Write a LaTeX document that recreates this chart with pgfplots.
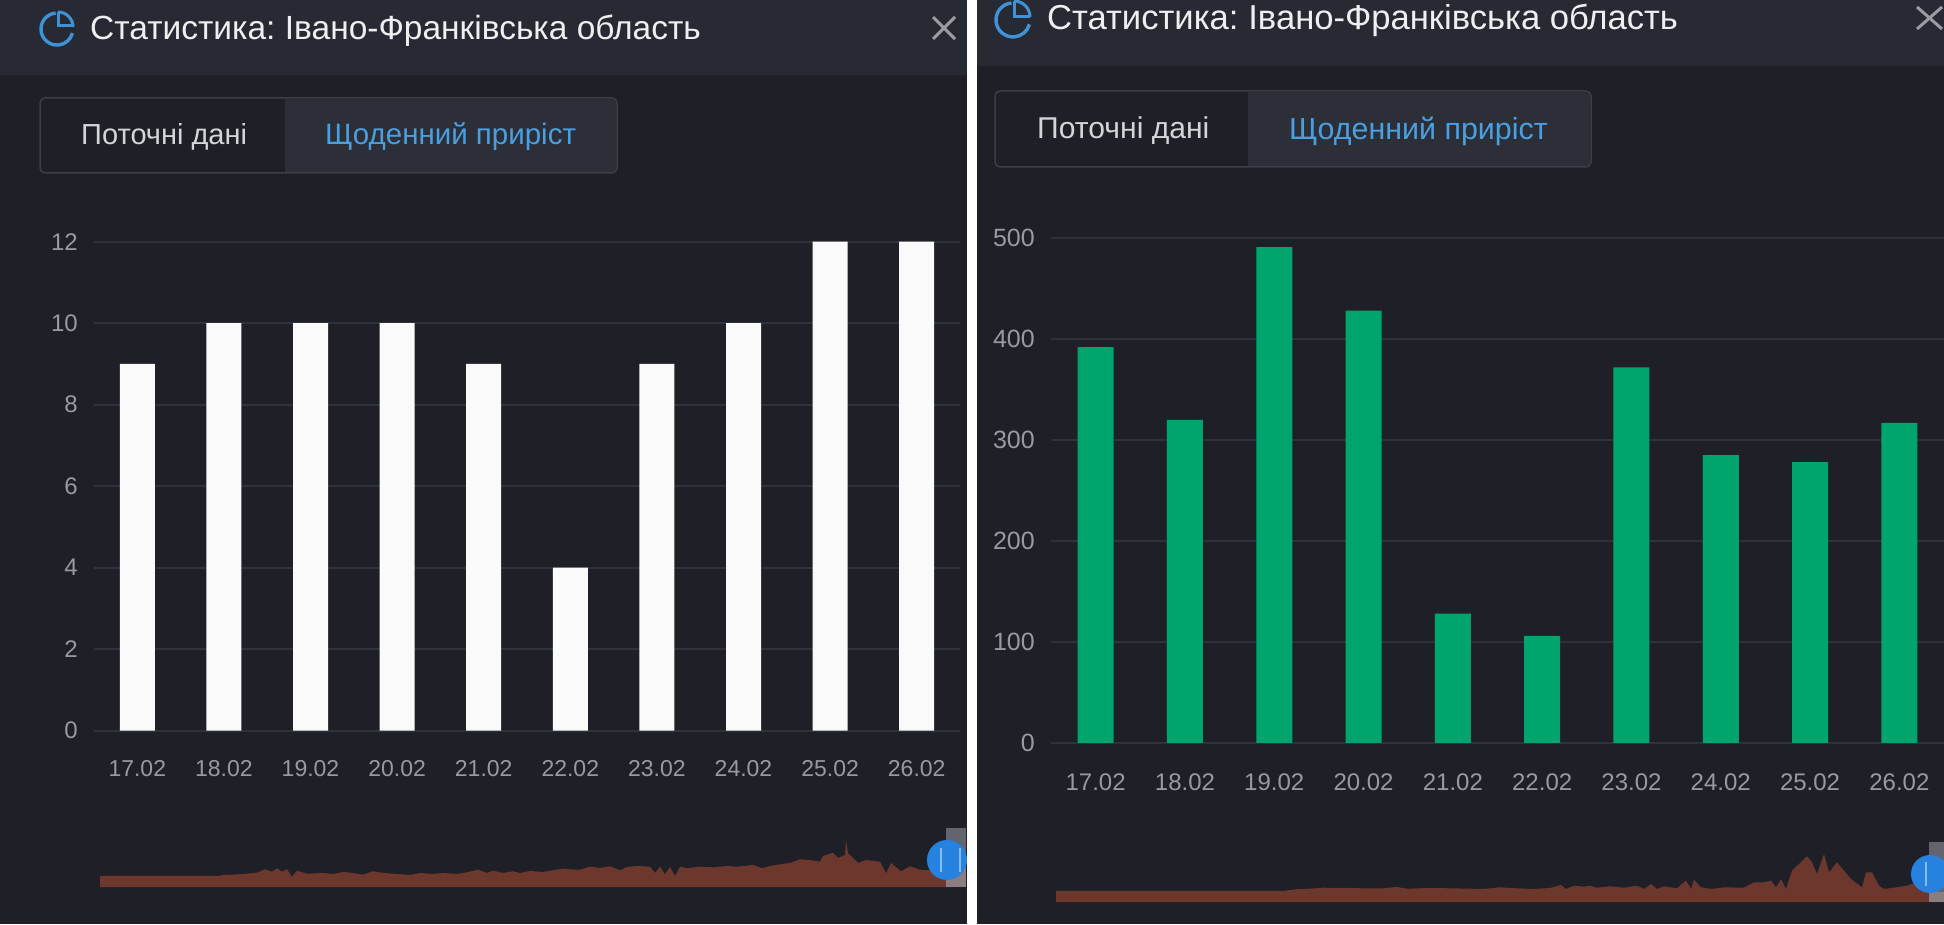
\documentclass[border=0pt]{standalone}
\usepackage{fontspec}
\setmainfont{Liberation Sans}
\usepackage{pgfplots}
\pgfplotsset{compat=1.18}
\definecolor{panelbg}{HTML}{1F2027}
\definecolor{headbg}{HTML}{272A32}
\definecolor{btnactive}{HTML}{2C2F38}
\definecolor{btnborder}{HTML}{3B3E46}
\definecolor{gridc}{HTML}{2F323A}
\definecolor{tickc}{HTML}{979AA4}
\definecolor{titlec}{HTML}{EEEFF1}
\definecolor{btntext}{HTML}{D4D5D9}
\definecolor{bluetext}{HTML}{4A9FE0}
\definecolor{iconblue}{HTML}{3F92D8}
\definecolor{closec}{HTML}{9A9CA3}
\definecolor{barwhite}{HTML}{FAFAFA}
\definecolor{bargreen}{HTML}{00A56D}
\definecolor{brown}{HTML}{6C382D}
\definecolor{handleblue}{HTML}{2682DE}
\definecolor{handleline}{HTML}{7FBDF2}
\definecolor{slidetop}{HTML}{62656D}
\definecolor{slidebot}{HTML}{8A7E80}
\newcommand{\fs}[1]{\fontsize{#1}{#1}\selectfont}
\pgfplotsset{
  mainbar/.style={
    scale only axis, anchor=south west,
    xmin=-0.5, xmax=9.5, ymin=0,
    xtick={0,...,9},
    xticklabels={17.02,18.02,19.02,20.02,21.02,22.02,23.02,24.02,25.02,26.02},
    axis line style={draw=none},
    major tick length=0pt,
    ymajorgrids=true,
    grid style={gridc, line width=2pt},
    clip=false,
    tick label style={text=tickc, inner sep=0pt},
    /pgf/number format/assume math mode=true,
    ybar,
  },
  mini/.style={
    scale only axis, anchor=south west,
    hide axis, ymin=0, clip=false,
  },
}
\begin{document}
\begin{tikzpicture}[x=1pt,y=1pt]
\path[use as bounding box] (0,0) rectangle (1944,924);
\fill[white] (0,0) rectangle (1944,924);
% left panel
\fill[panelbg] (0,0) rectangle (967,924);
\fill[headbg] (0,849) rectangle (967,924);
% right panel
\fill[panelbg] (977,0) rectangle (1944,924);
\fill[headbg] (977,858) rectangle (1944,924);
% icons
\draw[iconblue, line width=3.4pt] (55.6,910.9) arc[start angle=95, end angle=345, radius=16];
\draw[iconblue, line width=3pt] (58,912) -- (58,898) -- (73,898);
\draw[iconblue, line width=3pt] (58,912) arc[start angle=90, end angle=0, radius=15];
\draw[iconblue, line width=3.4pt] (1011.5,921) arc[start angle=95, end angle=345, radius=17];
\draw[iconblue, line width=3pt] (1014,923) -- (1014,907) -- (1030,907);
\draw[iconblue, line width=3pt] (1014,923) arc[start angle=90, end angle=0, radius=16];
% titles
\node[anchor=west, inner sep=0pt, text=titlec] at (90,893) {\fs{33.5}Статистика:\hspace{-3pt} Івано-Франківська область};
\node[anchor=west, inner sep=0pt, text=titlec] at (1047,904) {\fs{34.6}Статистика:\hspace{-3pt} Івано-Франківська область};
% close
\draw[closec, line width=3pt] (933,907) -- (955,885) (933,885) -- (955,907);
\draw[closec, line width=3pt] (1917,917) -- (1942,895) (1917,895) -- (1942,917);
% buttons
\draw[btnborder, line width=1.5pt, rounded corners=5pt, fill=panelbg] (40,751) rectangle (617,826);
\fill[btnactive, rounded corners=4pt] (285,752) rectangle (616,825);
\fill[btnactive] (285,752) rectangle (295,825);
\node[anchor=west, inner sep=0pt, text=btntext] at (81,787) {\fs{29}Поточні дані};
\node[anchor=west, inner sep=0pt, text=bluetext] at (325,787) {\fs{29.5}Щоденний приріст};
\draw[btnborder, line width=1.5pt, rounded corners=5pt, fill=panelbg] (995,757) rectangle (1591,833);
\fill[btnactive, rounded corners=4pt] (1248,758) rectangle (1590,832);
\fill[btnactive] (1248,758) rectangle (1258,832);
\node[anchor=west, inner sep=0pt, text=btntext] at (1037,793) {\fs{30.1}Поточні дані};
\node[anchor=west, inner sep=0pt, text=bluetext] at (1289,793) {\fs{30.4}Щоденний приріст};
% left bars
\begin{axis}[mainbar, at={(94pt,193.3pt)}, width=866pt, height=489pt,
  ymax=12, ytick={0,2,4,6,8,10,12}, bar width=35pt,
  xticklabel style={anchor=center, yshift=-38pt, font=\fs{23}},
  yticklabel style={anchor=east, font=\fs{24}},
  yticklabel shift=16pt]
\addplot[draw=none, fill=barwhite] coordinates {(0,9) (1,10) (2,10) (3,10) (4,9) (5,4) (6,9) (7,10) (8,12) (9,12)};
\end{axis}
% right bars
\begin{axis}[mainbar, at={(1051pt,181pt)}, width=893pt, height=505pt,
  ymax=500, ytick={0,100,200,300,400,500}, bar width=36pt,
  xticklabel style={anchor=center, yshift=-39pt, font=\fs{24}},
  yticklabel style={anchor=east, font=\fs{25}},
  yticklabel shift=16pt]
\addplot[draw=none, fill=bargreen] coordinates {(0,392) (1,320) (2,491) (3,428) (4,128) (5,106) (6,372) (7,285) (8,278) (9,317)};
\end{axis}
% left minimap (x in px, y height in px)
\begin{axis}[mini, at={(100pt,37pt)}, width=852pt, height=60pt, xmin=100, xmax=952, ymax=60]
\addplot[draw=none, fill=brown] coordinates {
(100,0)(100,11)(218,11)(223,12)(240,12.7)(257,14.3)(265,17.7)(272,15.3)(277,18.7)(282,15.3)(287,17.7)(292,10.3)(297,16.3)(307,13.3)(323,14)(333,13)(343,15)(353,14)(363,12.3)(373,15.7)(383,14)(397,13)(410,12)(420,14)(433,13)(443,14)(457,13)(467,14.7)(478,17.3)(487,14)(493,16.3)(503,14)(513,15.7)(520,14)(530,16)(543,15)(550,16.3)(563,18.3)(570,17.7)(580,17.3)(590,20.3)(600,19)(610,20.7)(620,16.7)(627,20)(637,21)(650,20.3)(655,14)(660,20.3)(665,12.7)(670,20)(675,11)(680,20.3)(687,18.7)(700,20.3)(713,19.7)(727,21)(737,20.3)(753,22)(762,18.7)(770,21)(780,22.7)(790,24)(800,27.7)(810,27)(820,25.3)(823,31)(833,34.3)(838,29)(845,32)(846,47)(848,33.7)(853,29)(858,24)(866,27)(880,25.3)(886,13.7)(891,24)(901,15.7)(910,20.7)(920,17.3)(930,16.7)(940,24)(952,30)(952,0)};
\end{axis}
% right minimap
\begin{axis}[mini, at={(1056pt,22pt)}, width=884pt, height=70pt, xmin=1056, xmax=1940, ymax=70]
\addplot[draw=none, fill=brown] coordinates {
(1056,0)(1056,11)(1283,11)(1296,12.7)(1310,13.3)(1323,14.3)(1337,14)(1350,14)(1363,13.7)(1383,13.7)(1397,15)(1407,13.3)(1430,14)(1450,13.7)(1483,13)(1500,14.7)(1517,13.7)(1534,13)(1550,14)(1561,17)(1566,13)(1574,16.3)(1584,15.3)(1590,16.3)(1597,14.3)(1610,15.7)(1624,14.3)(1637,16.3)(1644,13)(1651,18)(1657,13)(1664,15.7)(1677,13.7)(1686,21.3)(1691,13)(1694,22.3)(1701,14.7)(1711,13)(1724,14.7)(1744,14.3)(1754,19.7)(1764,19.7)(1771,21.3)(1776,14.7)(1781,22.7)(1786,13)(1792,31.3)(1807,45.7)(1812,39.7)(1817,28)(1824,48)(1829,29.7)(1837,39.7)(1844,31.3)(1851,23)(1862,14.7)(1866,29.7)(1872,29.7)(1879,16.3)(1884,13)(1897,14.7)(1907,16.3)(1917,19.7)(1929,21.3)(1940,21)(1940,0)};
\end{axis}
% sliders
\fill[slidetop] (946,37) rectangle (966,96);
\fill[slidebot] (946,37) rectangle (966,56);
\fill[handleblue] (947,64) circle[radius=20];
\draw[handleline, line width=2.4pt] (941,52) -- (941,76) (960,52) -- (960,76);
\fill[white] (967,0) rectangle (977,924);
\fill[slidetop] (1929,22) rectangle (1944,82);
\fill[slidebot] (1929,22) rectangle (1944,32);
\fill[handleblue] (1930,50) circle[radius=19];
\draw[handleline, line width=2.4pt] (1926,38) -- (1926,62);
\end{tikzpicture}
\end{document}
